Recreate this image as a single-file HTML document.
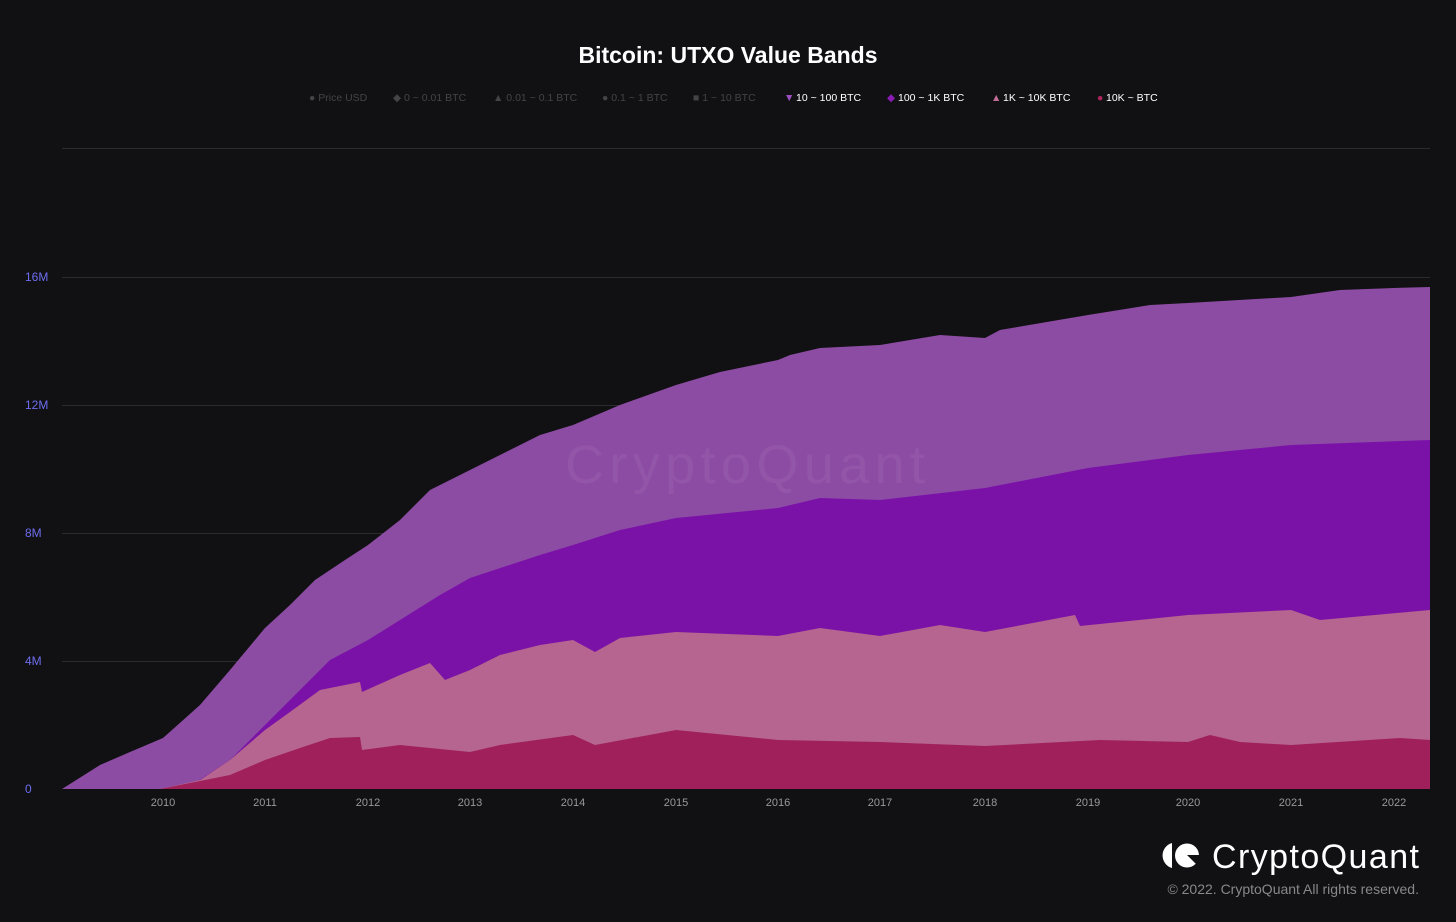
<!DOCTYPE html>
<html><head><meta charset="utf-8"><style>
body{margin:0;background:#111113;width:1456px;height:917px;overflow:hidden;font-family:"Liberation Sans",sans-serif}
</style></head><body>
<svg width="1456" height="917" viewBox="0 0 1456 917" xmlns="http://www.w3.org/2000/svg" font-family="Liberation Sans, sans-serif">
<rect width="1456" height="917" fill="#111113"/>
<text x="728" y="63" text-anchor="middle" fill="#fff" font-size="23" font-weight="bold">Bitcoin: UTXO Value Bands</text>
<g font-size="10.5">
<text x="309" y="101" fill="#444">● Price USD</text>
<text x="393" y="101" fill="#444">◆ 0 ~ 0.01 BTC</text>
<text x="493" y="101" fill="#444">▲ 0.01 ~ 0.1 BTC</text>
<text x="602" y="101" fill="#444">● 0.1 ~ 1 BTC</text>
<text x="693" y="101" fill="#444">■ 1 ~ 10 BTC</text>
<text x="784" y="101" fill="#9b4fc0">▼</text><text x="796" y="101" fill="#fff">10 ~ 100 BTC</text>
<text x="887" y="101" fill="#8a1bb5">◆</text><text x="898" y="101" fill="#fff">100 ~ 1K BTC</text>
<text x="991" y="101" fill="#c06c97">▲</text><text x="1003" y="101" fill="#fff">1K ~ 10K BTC</text>
<text x="1097" y="101" fill="#b0245e">●</text><text x="1106" y="101" fill="#fff">10K ~ BTC</text>
</g>
<g stroke="#2c2c30" stroke-width="1">
<line x1="62" y1="148.5" x2="1430" y2="148.5"/>
<line x1="62" y1="277.5" x2="1430" y2="277.5"/>
<line x1="62" y1="405.5" x2="1430" y2="405.5"/>
<line x1="62" y1="533.5" x2="1430" y2="533.5"/>
<line x1="62" y1="661.5" x2="1430" y2="661.5"/>
</g>
<g fill="#6d6df0" font-size="12">
<text x="25" y="281">16M</text><text x="25" y="409">12M</text><text x="25" y="537">8M</text><text x="25" y="665">4M</text><text x="25" y="793">0</text>
</g>
<path fill="#8d4ca4" d="M62,789 L100,765 L130,752 L163,738 L200,705 L230,670 L265,628 L290,605 L315,580 L345,560 L368,545 L400,520 L430,490 L470,470 L500,455 L540,435 L573,425 L620,405 L676,385 L720,372 L778,360 L790,355 L820,348 L880,345 L940,335 L985,338 L1000,330 L1088,315 L1150,305 L1188,303 L1291,297 L1340,290 L1394,288 L1430,287 L1430,789 Z"/>
<path fill="#7b12a8" d="M170,789 L190,786 L230,760 L265,725 L300,690 L330,660 L368,640 L400,620 L440,595 L470,578 L540,555 L573,545 L620,530 L676,518 L778,508 L820,498 L880,500 L985,488 L1088,468 L1188,455 L1291,445 L1430,440 L1430,789 Z"/>
<path fill="#b5658f" d="M160,789 L200,780 L230,760 L265,730 L290,712 L320,690 L360,682 L362,692 L400,675 L430,663 L445,680 L470,670 L500,655 L540,645 L573,640 L595,652 L620,638 L676,632 L778,636 L820,628 L880,636 L940,625 L985,632 L1075,615 L1080,626 L1188,615 L1291,610 L1320,620 L1430,610 L1430,789 Z"/>
<path fill="#a0205b" d="M160,789 L230,775 L265,760 L300,748 L330,738 L360,737 L362,750 L400,745 L470,752 L500,745 L573,735 L595,745 L676,730 L778,740 L880,742 L985,746 L1100,740 L1188,742 L1210,735 L1240,742 L1291,745 L1400,738 L1430,740 L1430,789 Z"/>
<text x="745" y="483" text-anchor="middle" fill="#ffffff" fill-opacity="0.05" font-size="54" textLength="360">CryptoQuant</text>
<g fill="#999" font-size="11" text-anchor="middle">
<text x="163" y="806">2010</text><text x="265" y="806">2011</text><text x="368" y="806">2012</text><text x="470" y="806">2013</text><text x="573" y="806">2014</text><text x="676" y="806">2015</text><text x="778" y="806">2016</text><text x="880" y="806">2017</text><text x="985" y="806">2018</text><text x="1088" y="806">2019</text><text x="1188" y="806">2020</text><text x="1291" y="806">2021</text><text x="1394" y="806">2022</text>
</g>
<g fill="#fff">
<path d="M1172,843 a13,13 0 0 0 0,25 Z"/>
<circle cx="1187" cy="855.5" r="12"/>
<path d="M1187,855 L1200,868 L1200,855 Z" fill="#111113"/>
</g>
<text x="1212" y="868" fill="#fff" font-size="34" textLength="207">CryptoQuant</text>
<text x="1419" y="894" text-anchor="end" fill="#888" font-size="14">© 2022. CryptoQuant All rights reserved.</text>
</svg>
</body></html>
